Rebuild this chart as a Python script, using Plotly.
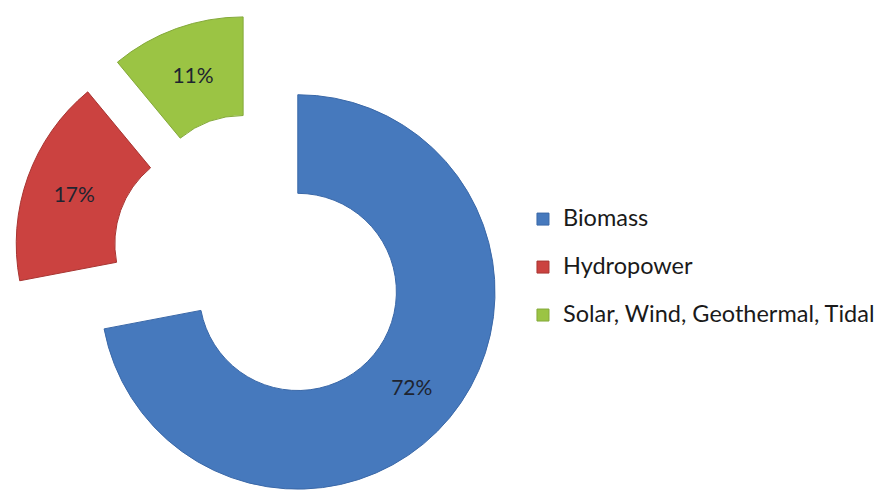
import plotly.graph_objects as go

categories = ["Biomass", "Hydropower", "Solar, Wind, Geothermal, Tidal"]
shares = [72, 17, 11]
colors = ["#4679BD", "#CB4240", "#9BC444"]
edge_colors = ["#3A68A8", "#A83532", "#84A93A"]

legend_font = 17.3
labels = [f"<span style='font-size:23.5px'>{c}</span><br>&nbsp;" for c in categories]

fig = go.Figure(
    go.Pie(
        labels=labels,
        values=shares,
        sort=False,
        direction="clockwise",
        rotation=0,
        hole=0.5,
        pull=[0.25, 0.25, 0.25],
        marker=dict(colors=colors, line=dict(color=edge_colors, width=1)),
        textinfo="percent",
        texttemplate="%{percent:.0%}",
        textposition="inside",
        insidetextorientation="horizontal",
        textfont=dict(family="Lato", size=21, color="#1E2430"),
        domain=dict(x=[0, 522 / 880], y=[0, 1]),
        hoverinfo="skip",
    )
)

fig.update_layout(
    width=880,
    height=507,
    margin=dict(l=0, r=0, t=14, b=0),
    paper_bgcolor="white",
    plot_bgcolor="white",
    showlegend=True,
    legend=dict(
        x=0.597,
        xanchor="left",
        y=0.620,
        yanchor="top",
        valign="top",
        font=dict(family="Lato", size=legend_font, color="#1A1A1A"),
        bgcolor="rgba(0,0,0,0)",
    ),
)

fig.write_html("out.html")
